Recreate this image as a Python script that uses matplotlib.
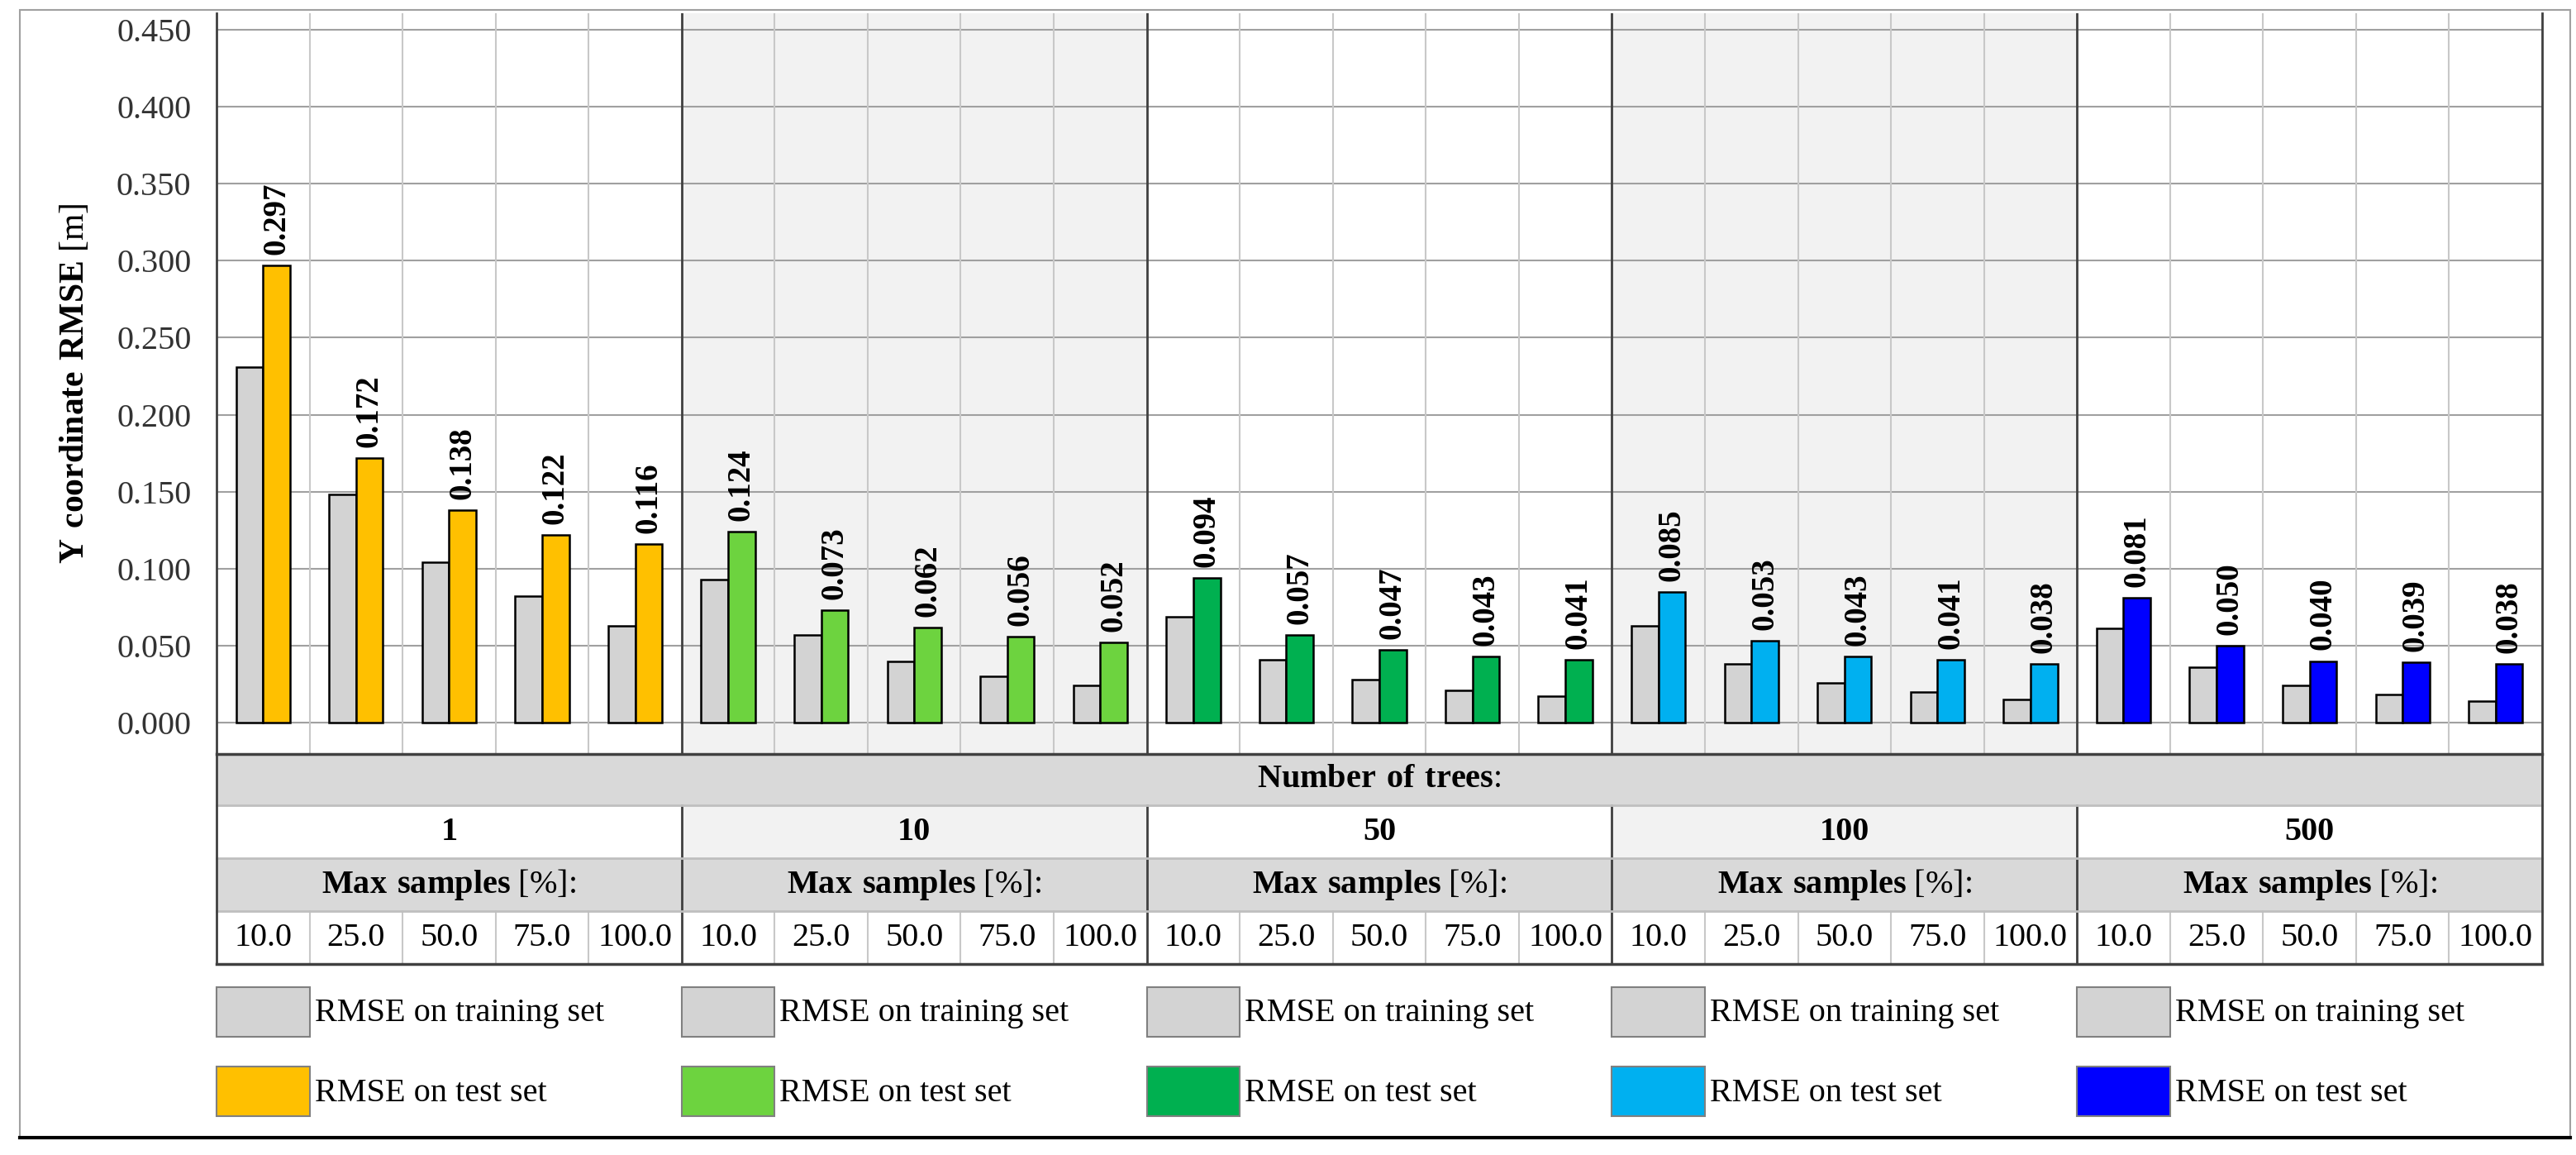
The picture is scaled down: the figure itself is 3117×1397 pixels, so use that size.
import matplotlib
matplotlib.use("Agg")
import matplotlib.pyplot as plt
from matplotlib.patches import Rectangle
import numpy as np

plt.rcParams["font.family"] = "Liberation Serif"
plt.rcParams["mathtext.fontset"] = "custom"
plt.rcParams["mathtext.rm"] = "Liberation Serif"
plt.rcParams["mathtext.bf"] = "Liberation Serif:bold"

trees = ["1", "10", "50", "100", "500"]
samples = ["10.0", "25.0", "50.0", "75.0", "100.0"]
train = [0.231, 0.148, 0.104, 0.082, 0.063,
         0.093, 0.057, 0.040, 0.030, 0.024,
         0.069, 0.041, 0.028, 0.021, 0.017,
         0.063, 0.038, 0.026, 0.020, 0.015,
         0.061, 0.036, 0.024, 0.018, 0.014]
test = [0.297, 0.172, 0.138, 0.122, 0.116,
        0.124, 0.073, 0.062, 0.056, 0.052,
        0.094, 0.057, 0.047, 0.043, 0.041,
        0.085, 0.053, 0.043, 0.041, 0.038,
        0.081, 0.050, 0.040, 0.039, 0.038]
colors = ["#FFC000", "#6DD33F", "#00B050", "#00B0F0", "#0000FF"]
train_color = "#D3D3D3"

W, H = 3117, 1397
fig = plt.figure(figsize=(W/100, H/100), dpi=100)
L, R, T, B = 262, 3076, 16, 912
ax = fig.add_axes([L/W, 1-B/H, (R-L)/W, (B-T)/H])
n = len(train)
ax.set_xlim(-0.5, n-0.5)
ax.set_ylim(-0.0204, 0.4607)

for g in range(5):
    if g % 2 == 1:
        ax.axvspan(g*5-0.5, g*5+4.5, color="#F2F2F2", zorder=0, lw=0)
for y in np.arange(0, 0.451, 0.05):
    ax.axhline(y, color="#A0A0A0", lw=1.5, zorder=1)
for i in range(1, n):
    if i % 5 == 0:
        ax.axvline(i-0.5, color="#404040", lw=2, zorder=1)
    else:
        ax.axvline(i-0.5, color="#C8C8C8", lw=1.5, zorder=1)

x = np.arange(n)
bw = 0.29
ax.bar(x-bw/2, train, bw, color=train_color, edgecolor="black", lw=1.8, zorder=3)
tc = [colors[i//5] for i in range(n)]
ax.bar(x+bw/2, test, bw, color=tc, edgecolor="black", lw=1.8, zorder=3)
for xi, v in zip(x, test):
    ax.text(xi+bw/2, v+0.007, f"{v:.3f}", rotation=90, ha="center", va="bottom",
            fontsize=28, fontweight="bold", zorder=4)

ax.set_yticks(np.arange(0, 0.451, 0.05))
ax.set_yticklabels([f"{v:.3f}" for v in np.arange(0, 0.451, 0.05)], fontsize=29, color="#333333")
ax.tick_params(axis="y", length=0, pad=22)
ax.set_xticks([])
ax.set_ylabel("$\\bf{Y\\ coordinate\\ RMSE}$ [m]", fontsize=30, labelpad=22)
for s in ["top", "right", "bottom"]:
    ax.spines[s].set_visible(False)
ax.spines["left"].set_color("#404040")
ax.spines["left"].set_linewidth(2)

ov = fig.add_axes([0, 0, 1, 1])
ov.set_xlim(0, W); ov.set_ylim(H, 0); ov.axis("off")
cw = (R-L)/n
rows = [912, 974, 1038, 1102, 1166]
FS = 29
ov.add_patch(Rectangle((L, rows[0]), R-L, rows[1]-rows[0], fc="#D9D9D9", ec="none"))
ov.text((L+R)/2, (rows[0]+rows[1])/2, "$\\bf{Number\\ of\\ trees}$:", ha="center", va="center", fontsize=FS)
for g in range(5):
    x0 = L + g*5*cw
    ov.add_patch(Rectangle((x0, rows[1]), 5*cw, rows[2]-rows[1], fc="#F2F2F2" if g % 2 else "white", ec="none"))
    ov.text(x0+2.5*cw, (rows[1]+rows[2])/2, trees[g], ha="center", va="center", fontsize=FS, fontweight="bold")
    ov.add_patch(Rectangle((x0, rows[2]), 5*cw, rows[3]-rows[2], fc="#D9D9D9", ec="none"))
    ov.text(x0+2.5*cw, (rows[2]+rows[3])/2, "$\\bf{Max\\ samples}$ [%]:", ha="center", va="center", fontsize=FS)
    for k in range(5):
        ov.text(x0+(k+0.5)*cw, (rows[3]+rows[4])/2, samples[k], ha="center", va="center", fontsize=FS)
        if k > 0:
            ov.plot([x0+k*cw]*2, [rows[3], rows[4]], color="#C8C8C8", lw=1.5)
    if g > 0:
        ov.plot([x0, x0], [rows[1], rows[4]], color="#404040", lw=2)
for yy in rows:
    edge = yy in (rows[0], rows[4])
    ov.plot([L, R], [yy, yy], color="#404040" if edge else "#BFBFBF", lw=2.5 if edge else 2)
ov.plot([L, L], [rows[0], rows[4]], color="#404040", lw=2)
ov.plot([R, R], [T, rows[4]], color="#404040", lw=2)

for g in range(5):
    x0 = L + g*5*cw
    for j, (lab, c) in enumerate([("RMSE on training set", train_color), ("RMSE on test set", colors[g])]):
        y0 = 1194 + j*96
        ov.add_patch(Rectangle((x0, y0), cw, 60, fc=c, ec="#808080", lw=1.5))
        ov.text(x0+cw+6, y0+32, lab, ha="left", va="center", fontsize=FS)

ov.add_patch(Rectangle((24, 12), 3086, 1376-12, fc="none", ec="#A0A0A0", lw=1.5))
ov.plot([24, 3110], [1376, 1376], color="black", lw=3)

fig.savefig("out.png", dpi=100)
